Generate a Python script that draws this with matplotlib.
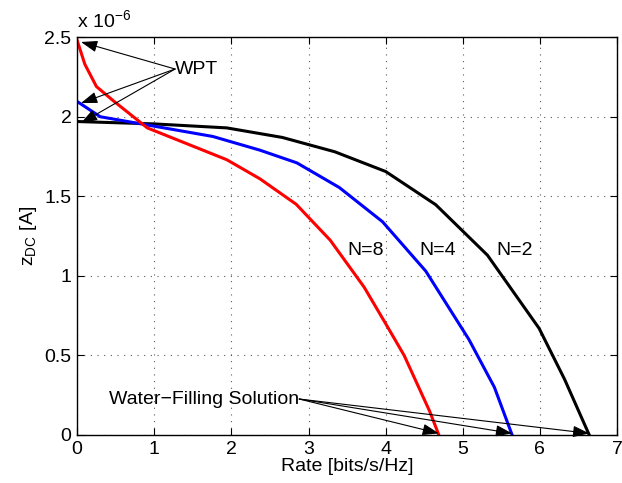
import numpy as np
import matplotlib.pyplot as plt

plt.rcParams['font.family'] = ['Liberation Sans', 'DejaVu Sans']

# N=2 (black)
rate_n2 = [0, 1.0, 1.94, 2.66, 3.34, 4.0, 4.65, 5.32, 5.99, 6.32, 6.64]
z_n2 = [1.97, 1.955, 1.93, 1.87, 1.78, 1.656, 1.447, 1.13, 0.67, 0.35, 0.0]

# N=4 (blue)
rate_n4 = [0, 0.3, 0.82, 1.76, 2.37, 2.85, 3.4, 3.96, 4.52, 5.08, 5.41, 5.64]
z_n4 = [2.096, 2.0, 1.956, 1.876, 1.79, 1.71, 1.555, 1.34, 1.03, 0.6, 0.3, 0.0]

# N=8 (red)
rate_n8 = [0, 0.1, 0.25, 0.47, 0.91, 1.94, 2.37, 2.84, 3.28, 3.72, 4.0, 4.24, 4.57, 4.69]
z_n8 = [2.48, 2.33, 2.19, 2.1, 1.93, 1.73, 1.61, 1.45, 1.225, 0.93, 0.70, 0.50, 0.15, 0.0]

xticks = [0, 1, 2, 3, 4, 5, 6, 7]
yticks = [0, 0.5, 1, 1.5, 2, 2.5]
ytick_labels = ['0', '0.5', '1', '1.5', '2', '2.5']

fs = 14

fig = plt.figure(figsize=(6.22, 4.83), dpi=100)
ax = fig.add_axes([0.124, 0.0994, 0.868, 0.8236])

ax.plot(rate_n2, z_n2, color='black', lw=2.2)
ax.plot(rate_n4, z_n4, color='blue', lw=2.2)
ax.plot(rate_n8, z_n8, color='red', lw=2.2)

ax.set_xlim(0, 7)
ax.set_ylim(0, 2.5)
ax.set_xticks(xticks)
ax.set_yticks(yticks)
ax.set_yticklabels(ytick_labels)
ax.tick_params(direction='in', top=True, right=True, labelsize=fs, length=5, pad=4)
ax.grid(True, linestyle=(0, (1, 5)), color='0.35', lw=0.8)
for s in ax.spines.values():
    s.set_linewidth(1.0)

ax.set_xlabel('Rate [bits/s/Hz]', fontsize=fs, labelpad=0)
ax.set_ylabel('z$_{\\mathregular{DC}}$ [A]', fontsize=fs, labelpad=4)
ax.text(0.0, 1.012, 'x 10$^{\\mathregular{-6}}$', transform=ax.transAxes,
        fontsize=fs, va='bottom', ha='left')

arrow = dict(arrowstyle='-|>,head_length=1.0,head_width=0.35', color='black',
             lw=0.8, shrinkA=0, shrinkB=0)

wpt_x, wpt_y = 1.27, 2.30
for px, py in [(rate_n8[0], z_n8[0]), (rate_n4[0], z_n4[0]), (rate_n2[0], z_n2[0])]:
    ax.annotate('', xy=(px + 0.05, py - 0.01), xytext=(wpt_x, wpt_y), arrowprops=arrow)
ax.text(wpt_x, wpt_y, 'WPT', fontsize=fs, va='center', ha='left')

wf_x, wf_y = 2.88, 0.226
for px in [rate_n8[-1], rate_n4[-1], rate_n2[-1]]:
    ax.annotate('', xy=(px, 0.01), xytext=(wf_x, wf_y), arrowprops=arrow)
ax.text(wf_x, wf_y, 'Water\u2212Filling Solution', fontsize=fs, va='center', ha='right')

ax.text(3.5, 1.16, 'N=8', fontsize=fs, va='center', ha='left')
ax.text(4.44, 1.16, 'N=4', fontsize=fs, va='center', ha='left')
ax.text(5.43, 1.16, 'N=2', fontsize=fs, va='center', ha='left')

fig.savefig('out.png', dpi=100)
